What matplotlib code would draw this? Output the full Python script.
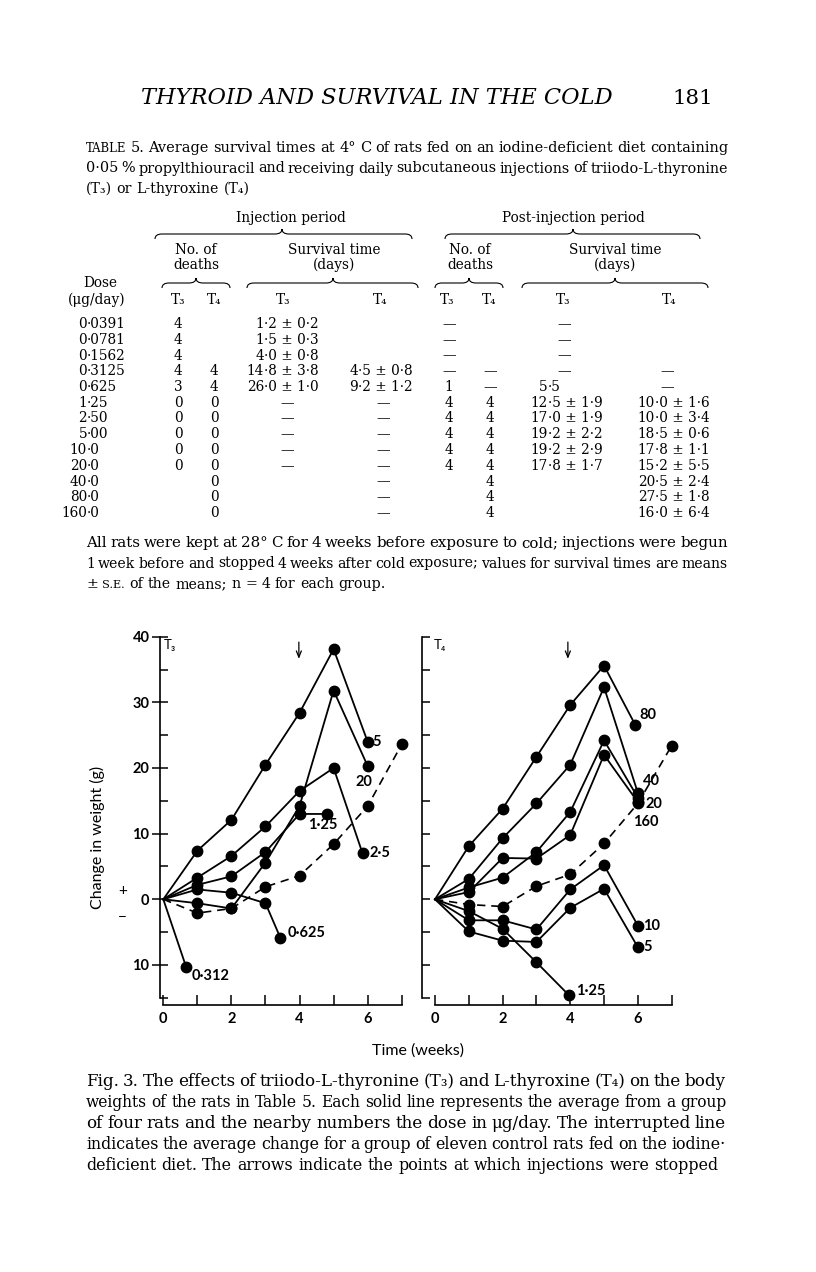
import numpy as np
import matplotlib.pyplot as plt
from matplotlib.path import Path
from matplotlib.patches import PathPatch

SERIF = 'DejaVu Serif'
SANS = ['Lato', 'DejaVu Sans']

# ---------------- Table 5 ----------------
doses = ['0·0391', '0·0781', '0·1562', '0·3125', '0·625', '1·25', '2·50',
         '5·00', '10·0', '20·0', '40·0', '80·0', '160·0']
inj_deaths_t3 = ['4', '4', '4', '4', '3', '0', '0', '0', '0', '0', '', '', '']
inj_deaths_t4 = ['', '', '', '4', '4', '0', '0', '0', '0', '0', '0', '0', '0']
inj_surv_t3 = ['1·2 ± 0·2', '1·5 ± 0·3', '4·0 ± 0·8', '14·8 ± 3·8', '26·0 ± 1·0',
               '—', '—', '—', '—', '—', '', '', '']
inj_surv_t4 = ['', '', '', '4·5 ± 0·8', '9·2 ± 1·2', '—', '—', '—', '—', '—',
               '—', '—', '—']
post_deaths_t3 = ['—', '—', '—', '—', '1', '4', '4', '4', '4', '4', '', '', '']
post_deaths_t4 = ['', '', '', '—', '—', '4', '4', '4', '4', '4', '4', '4', '4']
post_surv_t3 = ['—', '—', '—', '—', '5·5', '12·5 ± 1·9', '17·0 ± 1·9', '19·2 ± 2·2',
                '19·2 ± 2·9', '17·8 ± 1·7', '', '', '']
post_surv_t4 = ['', '', '', '—', '—', '10·0 ± 1·6', '10·0 ± 3·4', '18·5 ± 0·6',
                '17·8 ± 1·1', '15·2 ± 5·5', '20·5 ± 2·4', '27·5 ± 1·8', '16·0 ± 6·4']

# ---------------- Fig. 3 ----------------
weeks = [0, 1, 2, 3, 4, 5, 6, 7]

t3_doses = ['0·312', '0·625', '1·25', '2·5', '5', '20']
t3_weeks = [[0, 0.67],
            [0, 1, 2, 3, 3.44],
            [0, 1, 2, 3, 4, 4.8],
            [0, 1, 2, 3, 4, 5, 5.85],
            [0, 1, 2, 3, 4, 5, 6],
            [0, 1, 2, 3, 4, 5, 6]]
t3_change = [[0, -10.3],
             [0, 1.5, 1.0, -0.6, -5.9],
             [0, 2.2, 3.5, 7.2, 13.0, 13.0],
             [0, 3.3, 6.6, 11.1, 16.5, 20.0, 7.0],
             [0, 7.4, 12.1, 20.5, 28.4, 38.1, 24.0],
             [0, -0.6, -1.4, 5.6, 14.2, 31.8, 20.3]]
t3_control = [0, -2.1, -1.4, 1.9, 3.6, 8.4, 14.2, 23.6]

t4_doses = ['1·25', '5', '10', '20', '40', '80', '160']
t4_weeks = [[0, 1, 2, 3, 3.96],
            [0, 1, 2, 3, 4, 5, 6],
            [0, 1, 2, 3, 4, 5, 6],
            [0, 1, 2, 3, 4, 5, 6],
            [0, 1, 2, 3, 4, 5, 6],
            [0, 1, 2, 3, 4, 5, 5.92],
            [0, 1, 2, 3, 4, 5, 6]]
t4_change = [[0, -1.8, -4.5, -9.6, -14.6],
             [0, -4.9, -6.3, -6.5, -1.3, 1.6, -7.3],
             [0, -3.2, -3.2, -4.6, 1.5, 5.2, -4.0],
             [0, 1.8, 3.3, 7.2, 13.3, 24.2, 15.5],
             [0, 3.1, 9.3, 14.6, 20.5, 32.3, 16.2],
             [0, 8.1, 13.8, 21.7, 29.6, 35.6, 26.6],
             [0, 1.1, 6.3, 6.2, 9.8, 22.0, 14.8]]
t4_control = [0, -0.8, -1.1, 2.0, 3.8, 8.5, 14.6, 23.4]

# where the dose numbers sit (data coords of the left edge)
t3_label_xy = [(0.82, -11.7), (3.66, -5.2), (4.24, 11.3), (6.04, 7.0), (6.15, 23.9), (5.63, 17.9)]
t4_label_xy = [(4.18, -13.9), (6.15, -7.3), (6.15, -4.1), (6.24, 14.5), (6.15, 18.0), (6.05, 28.0), (5.85, 11.7)]

W, H = 816, 1272
fig = plt.figure(figsize=(W / 100, H / 100), dpi=100)
page = fig.add_axes([0, 0, 1, 1])
page.set_xlim(0, W)
page.set_ylim(H, 0)
page.axis('off')
renderer = fig.canvas.get_renderer()


def wid(t):
    return t.get_window_extent(renderer).width


def natural(s, size):
    t = page.text(0, 0, s, fontsize=size, family=SERIF)
    w = wid(t)
    t.remove()
    return w


def para(lines, x0, x1, y0, dy):
    # justified paragraph, one text per word
    target = x1 - x0
    fits = [10 * target / natural(s, 10) for s in lines[:-1]]
    base = float(np.median(fits))
    for k, line in enumerate(lines):
        y = y0 + k * dy
        last = k == len(lines) - 1
        size = base if last else min(fits[k] * 1.03, base * 1.06)
        words = line.split()
        texts = []
        for w in words:
            fs = size * 0.8 if w in ('TABLE', 'S.E.') else size
            texts.append(page.text(0, y, w, fontsize=fs, family=SERIF, va='baseline'))
        ws = [wid(t) for t in texts]
        if last:
            gap = 0.32 * size * 100 / 72
        else:
            gap = (target - sum(ws)) / (len(words) - 1)
        x = x0
        for t, w in zip(texts, ws):
            t.set_x(x)
            x += w + gap


def brace(x1, x2, y, xm=None, lw=0.8):
    xm = (x1 + x2) / 2 if xm is None else xm
    h = 5
    verts = [(x1, y + h), (x1, y), (x1 + 7, y), (xm - 7, y), (xm, y), (xm, y - h),
             (xm, y), (xm + 7, y), (x2 - 7, y), (x2, y), (x2, y + h)]
    codes = [Path.MOVETO, Path.CURVE3, Path.CURVE3, Path.LINETO, Path.CURVE3, Path.CURVE3,
             Path.CURVE3, Path.CURVE3, Path.LINETO, Path.CURVE3, Path.CURVE3]
    page.add_patch(PathPatch(Path(verts, codes), fill=False, lw=lw, color='k'))


# running head
head = page.text(141, 104, 'THYROID AND SURVIVAL IN THE COLD', style='italic',
                 family=SERIF, fontsize=10, va='baseline')
hs = 10 * 470 / wid(head)
head.set_fontsize(hs)
page.text(713, 104, '181', family=SERIF, fontsize=hs * 0.95, ha='right', va='baseline')

# table title
title = ['TABLE 5. Average survival times at 4° C of rats fed on an iodine-deficient diet containing',
         '0·05 % propylthiouracil and receiving daily subcutaneous injections of triiodo-L-thyronine',
         '(T₃) or L-thyroxine (T₄)']
para(title, 86, 728, 152, 20.5)

ts = 9.8
tk = dict(family=SERIF, fontsize=ts, va='center')
page.text(291, 218, 'Injection period', ha='center', **tk)
page.text(573, 218, 'Post-injection period', ha='center', **tk)
brace(155, 412, 234, 282)
brace(445, 700, 234, 573)
for xc, a, b in [(196, 'No. of', 'deaths'), (334, 'Survival time', '(days)'),
                 (470, 'No. of', 'deaths'), (615, 'Survival time', '(days)')]:
    page.text(xc, 250, a, ha='center', **tk)
    page.text(xc, 265, b, ha='center', **tk)
brace(162, 230, 283, 196)
brace(247, 418, 283, 333)
brace(435, 503, 283, 469)
brace(522, 708, 283, 615)
page.text(100, 283, 'Dose', ha='center', **tk)
page.text(97, 300, '(μg/day)', ha='center', **tk)
for xc, s in [(178, 'T₃'), (214, 'T₄'), (283, 'T₃'), (380, 'T₄'),
              (447, 'T₃'), (489, 'T₄'), (563, 'T₃'), (669, 'T₄')]:
    page.text(xc, 300, s, ha='center', **tk)


def dec_text(xd, xdash, y, s):
    if s == '':
        return
    if s == '—':
        page.text(xdash, y, s, ha='center', **tk)
        return
    i = s.find('·')
    page.text(xd, y, s[:i], ha='right', **tk)
    page.text(xd, y, s[i:], ha='left', **tk)


for i in range(len(doses)):
    y = 324 + i * 15.75
    dec_text(87, 87, y, doses[i])
    for xc, col in [(178, inj_deaths_t3), (214, inj_deaths_t4),
                    (449, post_deaths_t3), (490, post_deaths_t4)]:
        if col[i]:
            page.text(xc, y, col[i], ha='center', **tk)
    dec_text(264, 287, y, inj_surv_t3[i])
    dec_text(358, 383, y, inj_surv_t4[i])
    dec_text(548, 564, y, post_surv_t3[i])
    dec_text(655, 667, y, post_surv_t4[i])

foot = ['All rats were kept at 28° C for 4 weeks before exposure to cold; injections were begun',
        '1 week before and stopped 4 weeks after cold exposure; values for survival times are means',
        '± S.E. of the means; n = 4 for each group.']
para(foot, 86, 728, 547, 20.5)

caption = ['Fig. 3. The effects of triiodo-L-thyronine (T₃) and L-thyroxine (T₄) on the body',
           'weights of the rats in Table 5.  Each solid line represents the average from a group',
           'of four rats and the nearby numbers the dose in μg/day. The interrupted line',
           'indicates the average change for a group of eleven control rats fed on the iodine·',
           'deficient diet. The arrows indicate the points at which injections were stopped']
para(caption, 86, 726, 1086, 21)


# ---------------- chart panels ----------------
def panel(rect, spine_x, xs, ys, ctrl, doses_, label_xy, name, arrow_x, left):
    ax = fig.add_axes(rect)
    ax.patch.set_alpha(0)
    ax.set_xlim(-0.5, 7.3)
    ax.set_ylim(-17, 41)
    for x, y in zip(xs, ys):
        ax.plot(x, y, color='k', lw=1.3, marker='o', ms=7.5,
                markevery=list(range(1, len(x))), zorder=3)
    ax.plot(weeks, ctrl, color='k', lw=1.2, ls='--', dashes=(5, 3.5),
            marker='o', ms=7.5, markevery=list(range(1, len(weeks))), zorder=3)
    for d, (lx, ly) in zip(doses_, label_xy):
        ax.text(lx, ly, d, family=SANS, fontsize=10.5, fontweight='bold',
                ha='left', va='center')
    ax.text(0.02 if left else -0.05, 38.7, name, family=SANS, fontsize=9.5, va='center')
    ax.annotate('', xy=(arrow_x, 36.2), xytext=(arrow_x, 39.6),
                arrowprops=dict(arrowstyle='->,head_length=0.45,head_width=0.18',
                                lw=0.9, color='k'))
    for s in ['top', 'right']:
        ax.spines[s].set_visible(False)
    ax.spines['left'].set_position(('data', spine_x))
    ax.spines['left'].set_bounds(-15, 40)
    ax.spines['bottom'].set_position(('data', -16.1))
    ax.spines['bottom'].set_bounds(0, 7)
    for s in ['left', 'bottom']:
        ax.spines[s].set_linewidth(1.2)
    ax.set_xticks([0, 2, 4, 6])
    ax.set_xticks([1, 3, 5, 7], minor=True)
    ax.set_xticklabels(['0', '2', '4', '6'], family=SANS, fontsize=10.5, fontweight='bold')
    ax.tick_params(axis='x', which='both', direction='in', length=7, width=1.1, pad=5)
    ax.set_yticks([40, 30, 20, 10, 0, -10])
    ax.set_yticks([35, 25, 15, 5, -5, -15], minor=True)
    if left:
        ax.set_yticklabels(['40', '30', '20', '10', '0', '10'], family=SANS,
                           fontsize=10.5, fontweight='bold')
        ax.tick_params(axis='y', which='major', direction='inout', length=11, width=1.1, pad=2)
        ax.tick_params(axis='y', which='minor', direction='in', length=6, width=1.1)
    else:
        ax.set_yticklabels([])
        ax.tick_params(axis='y', which='both', direction='in', length=6, width=1.1)
    return ax


y_bot = 1 - (899.3 + 17 * 6.565) / H
y_h = 58 * 6.565 / H
axl = panel([(163.3 - 0.5 * 34.06) / W, y_bot, 7.8 * 34.06 / W, y_h], -0.1,
            t3_weeks, t3_change, t3_control, t3_doses, t3_label_xy, 'T₃', 3.98, True)
axr = panel([(435 - 0.5 * 33.81) / W, y_bot, 7.8 * 33.81 / W, y_h], -0.39,
            t4_weeks, t4_change, t4_control, t4_doses, t4_label_xy, 'T₄', 3.93, False)

axl.text(-1.19, 1.3, '+', family=SANS, fontsize=11, ha='center', va='center')
axl.text(-1.19, -2.9, '−', family=SANS, fontsize=11, ha='center', va='center')
page.text(97, 837, 'Change in weight (g)', rotation=90, family=SANS, fontsize=11.5,
          ha='center', va='center')
page.text(418, 1051, 'Time (weeks)', family=SANS, fontsize=11.5, ha='center', va='center')

fig.savefig('out.png', dpi=100)
